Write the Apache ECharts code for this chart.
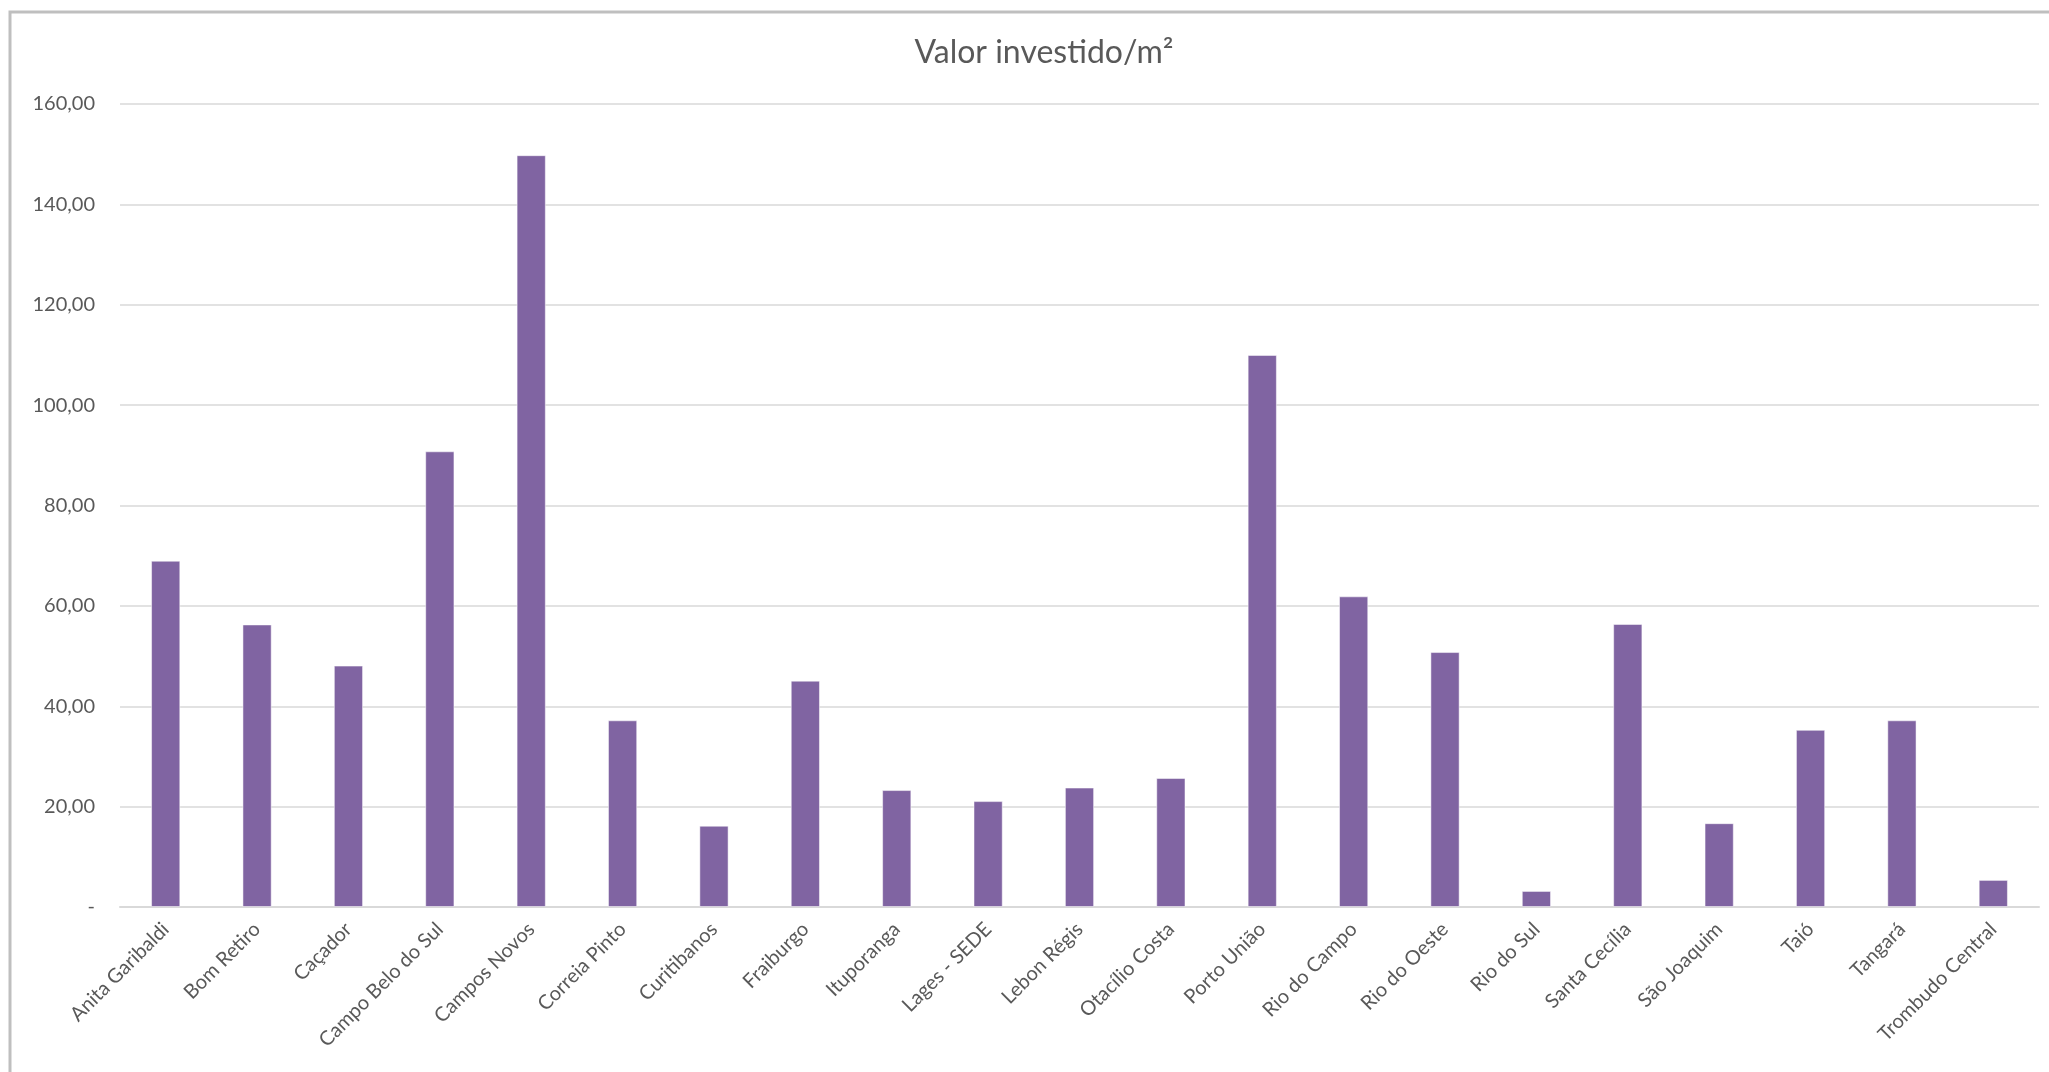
<!DOCTYPE html>
<html>
<head>
<meta charset="utf-8">
<script src="https://cdn.jsdelivr.net/npm/echarts@6/dist/echarts.min.js"></script>
<style>
  html, body { margin: 0; padding: 0; background: #ffffff; }
  #chart { width: 2049px; height: 1072px; }
</style>
</head>
<body>
<div id="chart"></div>
<script>
const chartTitle = 'Valor investido/m²';
const categories = [
  'Anita Garibaldi', 'Bom Retiro', 'Caçador', 'Campo Belo do Sul', 'Campos Novos',
  'Correia Pinto', 'Curitibanos', 'Fraiburgo', 'Ituporanga', 'Lages - SEDE',
  'Lebon Régis', 'Otacílio Costa', 'Porto União', 'Rio do Campo', 'Rio do Oeste',
  'Rio do Sul', 'Santa Cecília', 'São Joaquim', 'Taió', 'Tangará', 'Trombudo Central'
];
const values = [
  69.0, 56.3, 48.1, 90.8, 149.8,
  37.2, 16.2, 45.1, 23.3, 21.1,
  23.8, 25.7, 110.0, 61.9, 50.8,
  3.2, 56.4, 16.7, 35.3, 37.2, 5.4
];
const yTicks = [0, 20, 40, 60, 80, 100, 120, 140, 160];

const FONT = 'Lato, "Open Sans", sans-serif';
const chart = echarts.init(document.getElementById('chart'));
chart.setOption({
  backgroundColor: '#ffffff',
  animation: false,
  graphic: [{
    type: 'rect',
    shape: { x: 10, y: 12, width: 2100, height: 1100 },
    style: { fill: 'none', stroke: '#bfbfbf', lineWidth: 3 },
    silent: true
  }],
  title: {
    text: chartTitle,
    left: 1039,
    textAlign: 'center',
    top: 32,
    textStyle: { fontFamily: FONT, fontSize: 32, fontWeight: 'normal', color: '#595959' }
  },
  grid: { left: 120, right: 10, top: 104, bottom: 165, containLabel: false },
  xAxis: {
    type: 'category',
    data: categories,
    axisLine: { lineStyle: { color: '#d9d9d9', width: 2 } },
    axisTick: { show: false },
    axisLabel: {
      rotate: 45,
      interval: 0,
      margin: 19,
      fontFamily: FONT,
      fontSize: 20,
      color: '#595959'
    }
  },
  yAxis: {
    type: 'value',
    min: yTicks[0],
    max: yTicks[yTicks.length - 1],
    interval: 20,
    axisLine: { show: false },
    axisTick: { show: false },
    splitLine: { lineStyle: { color: '#d9d9d9', width: 1.5 } },
    axisLabel: {
      margin: 25,
      fontFamily: FONT,
      fontSize: 20,
      color: '#595959',
      formatter: v => v === 0 ? '-' : v.toFixed(2).replace('.', ',')
    }
  },
  series: [{
    type: 'bar',
    data: values,
    barWidth: '32%',
    itemStyle: { color: '#8064a2', borderColor: 'rgba(255,255,255,0.5)', borderWidth: 1 }
  }]
});
</script>
</body>
</html>
